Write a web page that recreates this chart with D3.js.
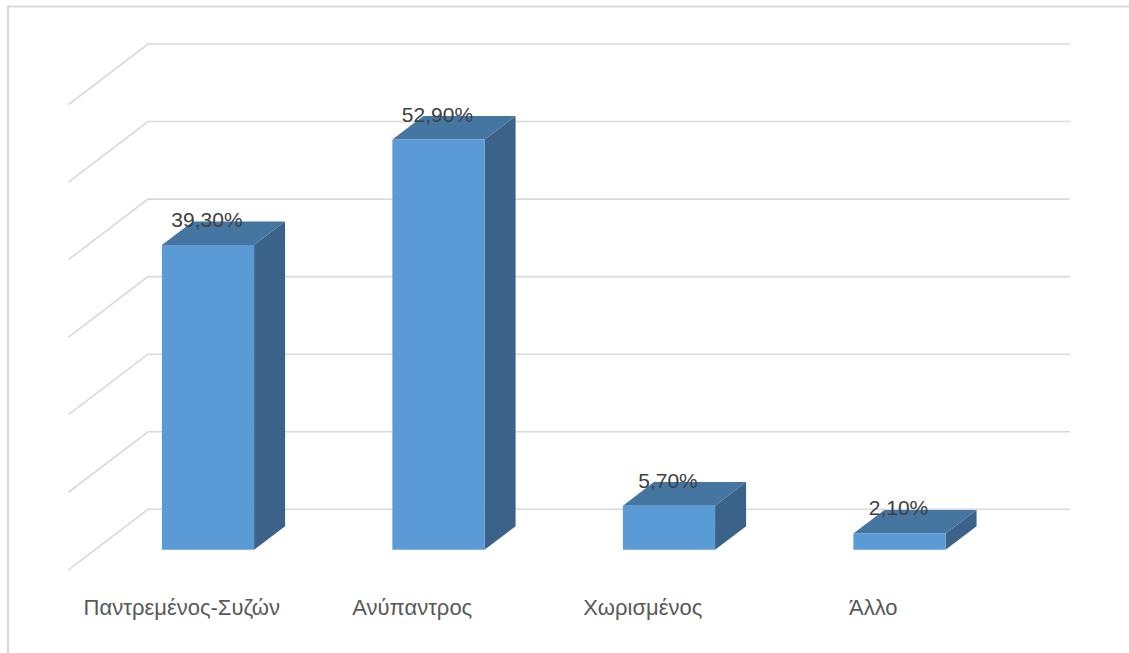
<!DOCTYPE html>
<html>
<head>
<meta charset="utf-8">
<script src="https://cdn.jsdelivr.net/npm/d3@7"></script>
<style>
  html, body { margin: 0; padding: 0; background: #ffffff; }
  svg { display: block; }
  text { font-family: "Liberation Sans", Arial, sans-serif; }
</style>
</head>
<body>
<svg id="chart" width="1129" height="653"></svg>
<script>
// Marital status distribution (percent)
const categories = ["Παντρεμένος-Συζών", "Ανύπαντρος", "Χωρισμένος", "Άλλο"];
const values = [39.3, 52.9, 5.7, 2.1];
const valueLabels = ["39,30%", "52,90%", "5,70%", "2,10%"];
const gridTicks = [0, 10, 20, 30, 40, 50, 60];

const W = 1129, H = 653;
const svg = d3.select("#chart");

// Back wall of the 3D plot area
const wallLeft = 148, wallRight = 1070;
const x = d3.scaleBand()
  .domain(categories)
  .range([wallLeft - 2, wallRight - 2])
  .paddingInner(0.6)
  .paddingOuter(0.3);
const y = d3.scaleLinear().domain([0, 60]).range([509.3, 44]);

// Oblique depth: vector from the back wall to the front edge of the floor
const depth = { dx: -79.5, dy: 60.5 };
const proj = (px, py, z) => [px + depth.dx * z, py + depth.dy * z];

// Bar depth range (0 = back wall, 1 = front edge)
const zBack = 0.28, zFront = 0.67;

// Outer chart border
svg.append("rect")
  .attr("x", 8).attr("y", 6.5)
  .attr("width", W + 10).attr("height", H + 10)
  .attr("fill", "none")
  .attr("stroke", "#d9d9d9")
  .attr("stroke-width", 2);

// Gridlines on the back wall and their continuation along the side wall
const grid = svg.append("g").attr("class", "grid");
gridTicks.forEach(t => {
  const gy = y(t);
  const [fx, fy] = proj(wallLeft, gy, 1);
  grid.append("path")
    .attr("d", `M${fx},${fy}L${wallLeft},${gy}L${wallRight},${gy}`)
    .attr("fill", "none")
    .attr("stroke", "#d9d9d9")
    .attr("stroke-width", 1.6);
});

// 3D bars
const colors = { front: "#5b9bd5", top: "#4576a2", side: "#3b6288" };
const bars = svg.append("g").attr("class", "bars");
const line = d3.line();

categories.forEach((c, i) => {
  const v = values[i];
  const x0 = x(c), x1 = x(c) + x.bandwidth();
  const yTop = y(v), yBase = y(0);

  const fTL = proj(x0, yTop, zFront), fTR = proj(x1, yTop, zFront);
  const fBL = proj(x0, yBase, zFront), fBR = proj(x1, yBase, zFront);
  const bTL = proj(x0, yTop, zBack), bTR = proj(x1, yTop, zBack);
  const bBR = proj(x1, yBase, zBack);

  const g = bars.append("g");
  g.append("path").attr("d", line([fTR, bTR, bBR, fBR]) + "Z").attr("fill", colors.side);
  g.append("path").attr("d", line([fTL, bTL, bTR, fTR]) + "Z").attr("fill", colors.top);
  g.append("path").attr("d", line([fTL, fTR, fBR, fBL]) + "Z").attr("fill", colors.front);

  // Value label above the bar
  const cx = (fTL[0] + fTR[0]) / 2 - 1;
  g.append("text")
    .attr("x", cx)
    .attr("y", bTL[1] + 5.5)
    .attr("text-anchor", "middle")
    .attr("font-size", 21)
    .attr("fill", "#404040")
    .text(valueLabels[i]);
});

// Category labels along the front edge of the floor
const labels = svg.append("g").attr("class", "categories");
categories.forEach(c => {
  const [lx] = proj(x(c) + x.bandwidth() / 2, y(0), 1);
  labels.append("text")
    .attr("x", lx)
    .attr("y", 615)
    .attr("text-anchor", "middle")
    .attr("font-size", 22)
    .attr("fill", "#595959")
    .text(c);
});
</script>
</body>
</html>
